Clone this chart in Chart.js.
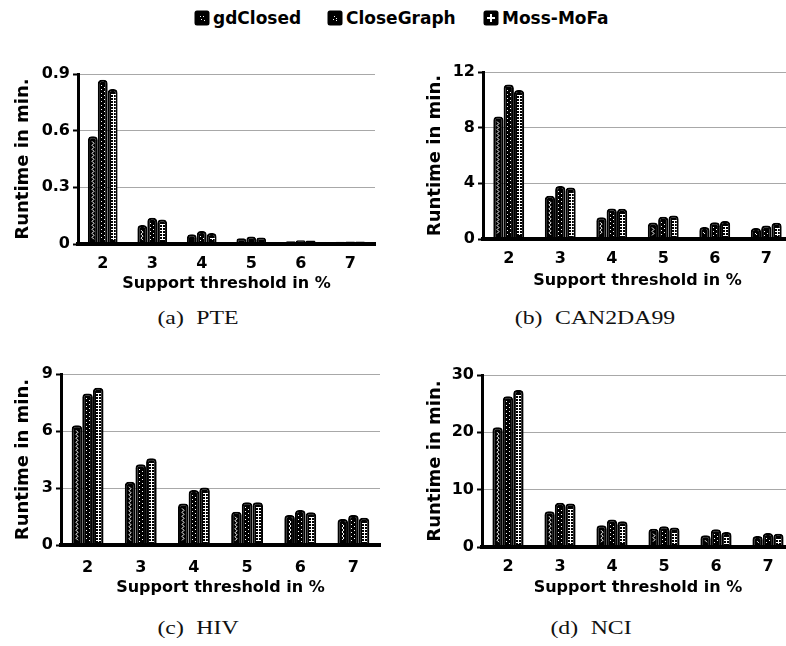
<!DOCTYPE html>
<html>
<head>
<meta charset="utf-8">
<title>Runtime vs support threshold</title>
<script src="https://cdn.jsdelivr.net/npm/chart.js@4/dist/chart.umd.min.js"></script>
<style>
  html, body { margin: 0; padding: 0; background: #fff; }
  #page { position: relative; width: 786px; height: 646px; overflow: hidden; background: #fff; }
  #page canvas.panel { position: absolute; }
  .cap { position: absolute; font-family: "Liberation Serif", "DejaVu Serif", serif; font-size: 18px;
         color: #111; white-space: nowrap; transform: translate(-50%, -50%) scaleX(1.32); word-spacing: 5px; }
  .leg { position: absolute; top: 18px; transform: translateY(-50%); display: flex; align-items: center;
         font-family: "DejaVu Sans", sans-serif; font-weight: bold; font-size: 17px; color: #000; white-space: nowrap; }
  .leg canvas { margin-right: 3px; }
</style>
</head>
<body>
<div id="page"></div>
<script>
// Categories (support threshold, %) and series names
const thresholds = ['2', '3', '4', '5', '6', '7'];
const seriesNames = ['gdClosed', 'CloseGraph', 'Moss-MoFa'];

// Runtime in minutes per dataset
const pteGdClosed   = [0.57, 0.100, 0.051, 0.030, 0.015, 0.012];
const pteCloseGraph = [0.87, 0.139, 0.069, 0.040, 0.020, 0.013];
const pteMossMoFa   = [0.82, 0.130, 0.058, 0.035, 0.018, 0.013];

const canGdClosed   = [8.8, 3.1, 1.57, 1.19, 0.86, 0.79];
const canCloseGraph = [11.1, 3.8, 2.20, 1.60, 1.20, 0.97];
const canMossMoFa   = [10.7, 3.7, 2.17, 1.69, 1.30, 1.17];

const hivGdClosed   = [6.30, 3.33, 2.19, 1.75, 1.58, 1.37];
const hivCloseGraph = [7.98, 4.25, 2.89, 2.25, 1.84, 1.58];
const hivMossMoFa   = [8.28, 4.56, 3.02, 2.25, 1.72, 1.44];

const nciGdClosed   = [20.9, 6.24, 3.8, 3.2, 2.05, 1.90];
const nciCloseGraph = [26.3, 7.70, 4.8, 3.6, 3.10, 2.45];
const nciMossMoFa   = [27.4, 7.58, 4.5, 3.4, 2.60, 2.30];

// Y axis tick values
const pteTicks = [0, 0.3, 0.6, 0.9];
const canTicks = [0, 4, 8, 12];
const hivTicks = [0, 3, 6, 9];
const nciTicks = [0, 10, 20, 30];

// Texts
const xTitle = 'Support threshold in %';
const yTitle = 'Runtime in min.';
const captions = ['(a) PTE', '(b) CAN2DA99', '(c) HIV', '(d) NCI'];

const TICK_PX = 16, XTITLE_PX = 16, YTITLE_PX = 18;
const FAMILY = '"DejaVu Sans", sans-serif';
const tickFont = { family: FAMILY, weight: 'bold', size: TICK_PX, lineHeight: 1.2 };
const xTitleFont = { family: FAMILY, weight: 'bold', size: XTITLE_PX, lineHeight: 1.2 };
const yTitleFont = { family: FAMILY, weight: 'bold', size: YTITLE_PX, lineHeight: 1.2 };

// White inner motif for each series, drawn inside a black bar
function drawMotif(ctx, series, cx, top, bottom) {
  cx = Math.round(cx);
  if (series === 0) {
    // wavy line
    ctx.lineWidth = 1;
    ctx.beginPath();
    let flip = false;
    ctx.moveTo(cx - 1, top);
    for (let yy = top + 2; yy <= bottom; yy += 2) {
      ctx.lineTo(flip ? cx - 1 : cx + 1, yy);
      flip = !flip;
    }
    ctx.stroke();
  } else if (series === 1) {
    // two staggered dot columns
    let k = 0;
    for (let yy = Math.round(top); yy <= bottom; yy += 2) {
      ctx.fillRect(k % 2 ? cx + 1 : cx - 2, yy, 1, 1);
      k++;
    }
  } else {
    // ladder: vertical line with cross bars
    ctx.fillRect(cx, Math.round(top), 1, Math.round(bottom - top));
    for (let yy = Math.round(top); yy <= bottom; yy += 3) {
      ctx.fillRect(cx - 2, yy, 5, 1);
    }
  }
}

const motifPlugin = {
  id: 'barMotifs',
  afterDatasetsDraw(chart) {
    const ctx = chart.ctx;
    chart.data.datasets.forEach((ds, di) => {
      const meta = chart.getDatasetMeta(di);
      meta.data.forEach(bar => {
        const p = bar.getProps(['x', 'y', 'base'], true);
        const top = p.y + 5, bottom = p.base - 3;
        if (bottom - top < 2) return;
        ctx.save();
        ctx.fillStyle = '#fff';
        ctx.strokeStyle = '#fff';
        drawMotif(ctx, di, p.x, top, bottom);
        ctx.restore();
      });
    });
  }
};

// Panel placement on the page
const panels = [
  { canvas: { x: 0,   y: 40,  w: 395, h: 262 }, area: { l: 78,  t: 74,  r: 375, b: 244 }, yTitleX: 23.5, xTickY: 264, xTitleY: 284,
    ticks: pteTicks, data: [pteGdClosed, pteCloseGraph, pteMossMoFa], cap: { x: 198, y: 318 } },
  { canvas: { x: 395, y: 40,  w: 405, h: 262 }, area: { l: 483, t: 72,  r: 792, b: 239 }, yTitleX: 435, xTickY: 259, xTitleY: 281,
    ticks: canTicks, data: [canGdClosed, canCloseGraph, canMossMoFa], cap: { x: 595, y: 318 } },
  { canvas: { x: 0,   y: 350, w: 395, h: 260 }, area: { l: 61,  t: 374, r: 380, b: 545 }, yTitleX: 23.5, xTickY: 568, xTitleY: 588,
    ticks: hivTicks, data: [hivGdClosed, hivCloseGraph, hivMossMoFa], cap: { x: 198, y: 628 } },
  { canvas: { x: 395, y: 350, w: 405, h: 260 }, area: { l: 482, t: 375, r: 794, b: 547 }, yTitleX: 435, xTickY: 567, xTitleY: 588,
    ticks: nciTicks, data: [nciGdClosed, nciCloseGraph, nciMossMoFa], cap: { x: 591, y: 628 } }
];

const page = document.getElementById('page');

panels.forEach((p, idx) => {
  const cv = document.createElement('canvas');
  cv.className = 'panel';
  cv.width = p.canvas.w; cv.height = p.canvas.h;
  Object.assign(cv.style, { left: p.canvas.x + 'px', top: p.canvas.y + 'px', width: p.canvas.w + 'px', height: p.canvas.h + 'px' });
  page.appendChild(cv);

  const yOff = YTITLE_PX * 1.2 / 2, xOff = XTITLE_PX * 1.2 / 2, tOff = TICK_PX * 1.2 / 2;
  const padLeft = p.yTitleX - p.canvas.x - yOff;
  const yWidth = p.area.l - p.canvas.x - padLeft;
  const padTop = p.area.t - p.canvas.y;
  const padRight = p.canvas.x + p.canvas.w - p.area.r;
  const padBottom = p.canvas.h - (p.xTitleY - p.canvas.y) - xOff;
  const xHeight = (p.canvas.h - padBottom) - (p.area.b - p.canvas.y);
  const xTickPad = (p.xTickY - p.area.b) - tOff;
  const tickVals = p.ticks;

  new Chart(cv, {
    type: 'bar',
    data: {
      labels: thresholds,
      datasets: seriesNames.map((name, i) => ({
        label: name,
        data: p.data[i],
        backgroundColor: '#000',
        borderColor: '#000',
        borderWidth: 2,
        borderRadius: 4,
        borderSkipped: 'bottom',
        categoryPercentage: 0.6,
        barPercentage: 1.0
      }))
    },
    options: {
      responsive: false,
      animation: false,
      devicePixelRatio: 1,
      layout: { padding: { left: padLeft, top: padTop, right: padRight, bottom: padBottom } },
      plugins: { legend: { display: false }, tooltip: { enabled: false } },
      scales: {
        x: {
          grid: { display: false, drawTicks: false },
          border: { display: true, color: '#000', width: 4 },
          ticks: { color: '#000', font: tickFont, padding: xTickPad, maxRotation: 0 },
          title: { display: true, text: xTitle, color: '#000', font: xTitleFont, padding: 0 },
          afterFit(s) { s.height = xHeight; s.paddingLeft = 0; s.paddingRight = 0; }
        },
        y: {
          min: 0,
          max: tickVals[tickVals.length - 1],
          afterBuildTicks(s) { s.ticks = tickVals.map(v => ({ value: v })); },
          grid: { color: '#a8a8a8', lineWidth: 1, tickColor: '#000', tickLength: 5, tickWidth: 2 },
          border: { display: true, color: '#000', width: 3 },
          ticks: { color: '#000', font: tickFont, padding: 3, callback: v => String(v) },
          title: { display: true, text: yTitle, color: '#000', font: yTitleFont, padding: 0 },
          afterFit(s) { s.width = yWidth; s.paddingTop = 0; s.paddingBottom = 0; }
        }
      }
    },
    plugins: [motifPlugin]
  });

  const cap = document.createElement('div');
  cap.className = 'cap';
  cap.textContent = captions[idx];
  cap.style.left = p.cap.x + 'px';
  cap.style.top = p.cap.y + 'px';
  page.appendChild(cap);
});

// Legend across the top
const legendPos = [194, 327, 483];
seriesNames.forEach((name, i) => {
  const item = document.createElement('div');
  item.className = 'leg';
  item.style.left = legendPos[i] + 'px';
  const sw = document.createElement('canvas');
  sw.width = 16; sw.height = 16;
  const c = sw.getContext('2d');
  c.fillStyle = '#000';
  c.beginPath();
  c.roundRect(0.5, 0.5, 15, 15, 2.5);
  c.fill();
  c.fillStyle = '#fff';
  if (i === 0) {
    c.fillRect(6, 6, 1, 1); c.fillRect(9, 6, 1, 1); c.fillRect(7, 9, 1, 1); c.fillRect(10, 10, 1, 1);
  } else if (i === 1) {
    c.fillRect(7, 6, 1, 1); c.fillRect(9, 8, 1, 1); c.fillRect(6, 9, 1, 1); c.fillRect(9, 10, 1, 1);
  } else {
    c.fillRect(7, 4, 2, 8); c.fillRect(4, 7, 8, 2);
  }
  item.appendChild(sw);
  const t = document.createElement('span');
  t.textContent = name;
  item.appendChild(t);
  page.appendChild(item);
});
</script>
</body>
</html>
